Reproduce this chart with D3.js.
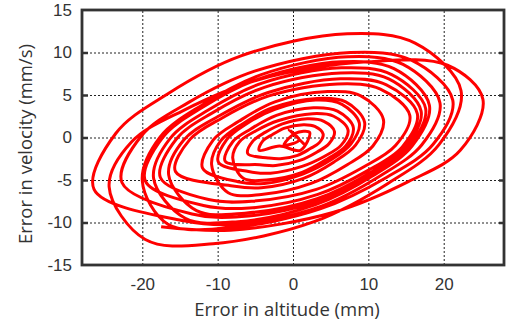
<!DOCTYPE html>
<html>
<head>
<meta charset="utf-8">
<script src="https://cdn.jsdelivr.net/npm/d3@7"></script>
<style>
  body { margin: 0; background: #fff; }
  svg { font-family: "Open Sans", sans-serif; }
  .grid line { stroke: #222; stroke-width: 1; stroke-dasharray: 2,2; }
  .grid .domain { display: none; }
  .lbl text { fill: #333; font-size: 17px; }
  .lbl .domain { display: none; }
  .tk line { stroke: #333; stroke-width: 2.5; }
  .tk .domain { display: none; }
</style>
</head>
<body>
<svg id="chart" width="517" height="322"></svg>
<script>
const xTicks = [-20, -10, 0, 10, 20];
const yTicks = [-15, -10, -5, 0, 5, 10, 15];

// error trajectory, read loop by loop off the picture (clockwise loops)
const altErr = [
  1.5, -0.5, 0.8, -1.2, 0.3, 2.2, 1.0, -1.8,
  -4.5, -4.0, -2.8, -1.1, 1.4, 2.9, 4.0, 3.5, 2.3, 0.6, -1.7, -3.3,
  -6.0, -5.3, -3.7, -1.4, 1.9, 4.1, 5.5, 4.8, 3.2, 0.9, -2.3, -4.4,
  -9.0, -8.0, -5.6, -2.2, 2.7, 5.9, 8.0, 7.0, 4.6, 1.2, -3.5, -6.6,
  -8.0, -7.1, -4.9, -1.9, 2.6, 5.4, 7.3, 6.4, 4.2, 1.2, -3.0, -5.9,
  -9.9, -8.8, -6.2, -2.4, 3.0, 6.5, 8.8, 7.7, 5.1, 1.3, -3.8, -7.3,
  -12.0, -10.6, -7.2, -2.4, 4.6, 9.0, 12.0, 10.6, 7.2, 2.4, -4.2, -8.6,
  -10.8, -9.6, -6.7, -2.7, 3.2, 7.0, 9.5, 8.3, 5.4, 1.4, -4.2, -8.0,
  -15.6, -13.7, -9.4, -3.2, 5.9, 11.6, 15.5, 13.6, 9.3, 3.1, -5.5, -11.2,
  -17.6, -15.5, -10.7, -3.8, 6.3, 12.7, 17.0, 14.9, 10.1, 3.2, -6.4, -12.8,
  -16.5, -14.5, -9.9, -3.3, 6.3, 12.4, 16.5, 14.5, 9.9, 3.3, -5.8, -11.9,
  -19.6, -17.3, -12.1, -4.5, 6.4, 13.4, 18.1, 15.8, 10.6, 3.0, -7.3, -14.3,
  -18.5, -16.3, -11.3, -4.1, 6.4, 13.1, 17.6, 15.4, 10.4, 3.2, -6.8, -13.4,
  -22.7, -20.1, -13.9, -5.1, 7.6, 15.7, 21.2, 18.6, 12.4, 3.6, -8.4, -16.6,
  -20.0, -17.6, -12.1, -4.2, 7.3, 14.6, 19.5, 17.1, 11.6, 3.7, -7.2, -14.5,
  -26.4, -23.5, -16.7, -6.9, 7.2, 16.2, 22.3, 19.4, 12.6, 2.8, -10.6, -19.6,
  -24.4, -21.4, -14.5, -4.6, 9.8, 20.5, 25.2, 22.2, 15.3, 5.4, -8.3, -17.5
];
const velErr = [
  -0.8, 0.9, -0.3, -0.9, 0.5, 0.6, -1.5, -1.0,
  -1.5, -0.4, 0.3, 1.1, 1.5, 1.3, 0.4, -0.6, -1.3, -2.1, -2.5, -2.4,
  -1.9, -0.4, 0.6, 1.6, 2.2, 1.9, 0.7, -0.7, -1.7, -2.7, -3.3, -3.2,
  -2.8, -0.5, 1.0, 2.6, 3.5, 3.1, 1.2, -1.0, -2.5, -4.1, -5.0, -4.8,
  -2.4, -0.5, 0.8, 2.0, 2.8, 2.5, 0.9, -0.9, -2.2, -3.4, -4.2, -4.0,
  -2.9, -0.25, 1.6, 3.3, 4.4, 3.9, 1.7, -0.75, -2.6, -4.3, -5.4, -5.2,
  -3.6, -0.3, 1.9, 4.2, 5.4, 4.9, 2.1, -1.0, -3.2, -5.4, -6.7, -6.5,
  -3.2, -0.4, 1.6, 3.5, 4.6, 4.2, 1.8, -0.9, -2.9, -4.8, -5.9, -5.7,
  -4.0, -0.25, 2.3, 4.9, 6.3, 5.7, 2.6, -0.95, -3.5, -6.1, -7.5, -7.3,
  -4.7, -0.2, 2.9, 5.9, 7.6, 6.9, 3.1, -1.1, -4.2, -7.2, -8.9, -8.6,
  -4.4, -0.3, 2.5, 5.3, 6.9, 6.2, 2.8, -1.1, -3.9, -6.7, -8.3, -8.0,
  -5.1, 0.0, 3.5, 6.9, 8.9, 8.1, 3.8, -1.0, -4.5, -7.9, -9.9, -9.5,
  -4.8, -0.1, 3.2, 6.4, 8.2, 7.4, 3.4, -1.0, -4.3, -7.5, -9.3, -9.0,
  -5.3, 0.2, 4.1, 7.8, 10.0, 9.1, 4.4, -0.8, -4.7, -8.4, -10.6, -10.2,
  -5.1, 0.1, 3.8, 7.4, 9.5, 8.6, 4.1, -0.85, -4.5, -8.1, -10.2, -9.8,
  -6.1, 0.5, 5.1, 9.6, 12.2, 11.1, 5.5, -0.8, -5.4, -9.9, -12.5, -12.0,
  -5.8, -0.5, 3.2, 6.8, 8.9, 8.5, 4.5, -1.5, -5.2, -8.8, -10.9, -10.5
];

const margin = {top: 10, right: 13, bottom: 57, left: 82};
const width = 517 - margin.left - margin.right;   // 422
const height = 322 - margin.top - margin.bottom;  // 255

const svg = d3.select("#chart");
const g = svg.append("g")
  .attr("transform", "translate(" + margin.left + "," + margin.top + ")");

const x = d3.scaleLinear().domain([-28, 28]).range([0, width]);
const y = d3.scaleLinear().domain([-15, 15]).range([height, 0]);
const inner = yTicks.slice(1, -1);
const plain = d => String(d); // hyphen minus like the original

// dotted grid
g.append("g").attr("class", "grid")
  .attr("transform", "translate(0," + height + ")")
  .call(d3.axisBottom(x).tickValues(xTicks).tickSize(-height).tickFormat(""));
g.append("g").attr("class", "grid")
  .call(d3.axisLeft(y).tickValues(inner).tickSize(-width).tickFormat(""));

// the trajectory
const pts = altErr.map((a, i) => ({alt: a, vel: velErr[i]}));
const line = d3.line()
  .x(d => x(d.alt))
  .y(d => y(d.vel))
  .curve(d3.curveCatmullRom.alpha(0.5));
g.append("path")
  .datum(pts)
  .attr("d", line)
  .attr("fill", "none")
  .attr("stroke", "#ff0000")
  .attr("stroke-width", 3)
  .attr("stroke-linejoin", "round");

// frame + small inside ticks
g.append("rect")
  .attr("width", width).attr("height", height)
  .attr("fill", "none").attr("stroke", "#333").attr("stroke-width", 2.8);
g.append("g").attr("class", "tk")
  .call(d3.axisLeft(y).tickValues(inner).tickSize(-6).tickFormat(""));
g.append("g").attr("class", "tk")
  .attr("transform", "translate(" + width + ",0)")
  .call(d3.axisRight(y).tickValues(inner).tickSize(-5).tickFormat(""));

// tick labels
g.append("g").attr("class", "lbl")
  .attr("transform", "translate(0," + height + ")")
  .call(d3.axisBottom(x).tickValues(xTicks).tickSize(0).tickPadding(13).tickFormat(plain));
g.append("g").attr("class", "lbl")
  .call(d3.axisLeft(y).tickValues(yTicks).tickSize(0).tickPadding(10).tickFormat(plain));

// axis titles
svg.append("text")
  .attr("x", 287).attr("y", 316)
  .attr("text-anchor", "middle")
  .attr("fill", "#333").attr("font-size", 18.5)
  .text("Error in altitude (mm)");
svg.append("text")
  .attr("transform", "translate(32,144) rotate(-90)")
  .attr("text-anchor", "middle")
  .attr("fill", "#333").attr("font-size", 18.5)
  .text("Error in velocity (mm/s)");
</script>
</body>
</html>
